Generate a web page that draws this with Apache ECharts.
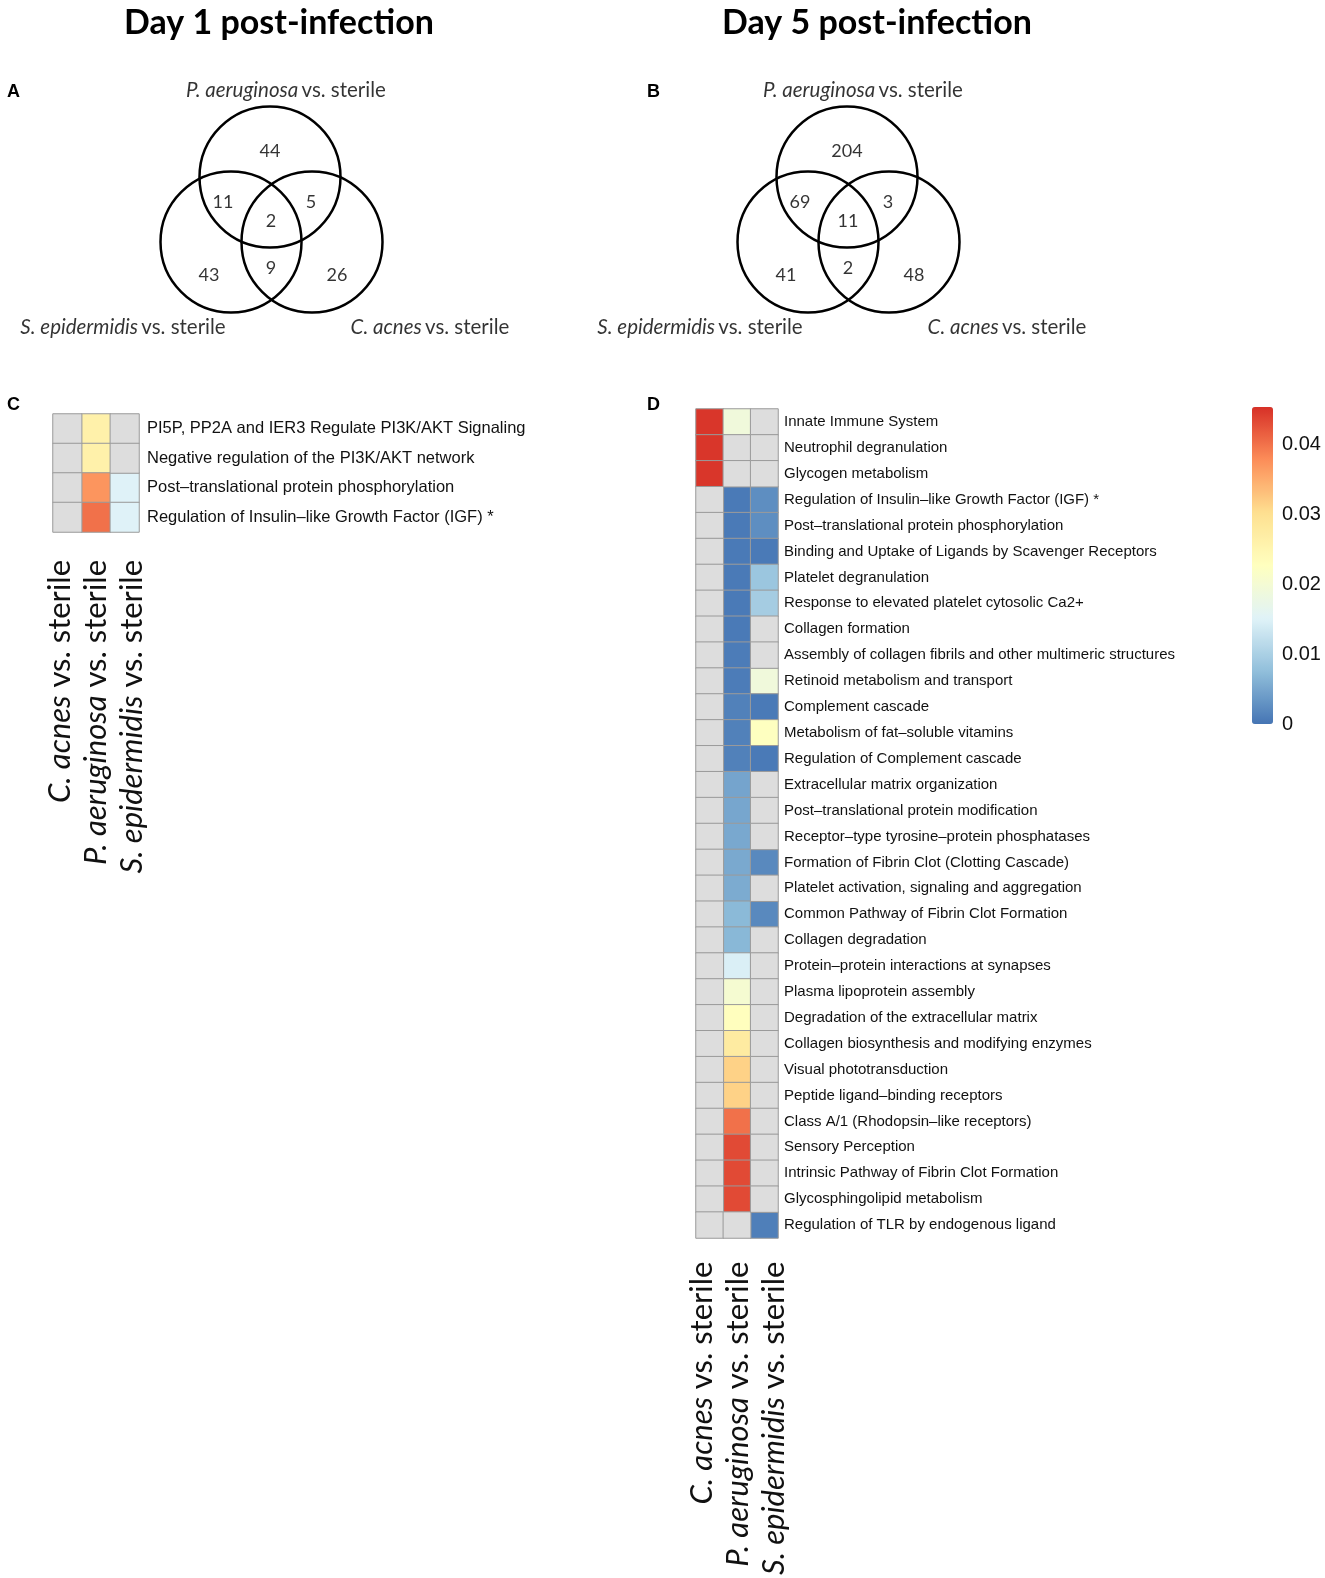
<!DOCTYPE html>
<html><head><meta charset="utf-8">
<script src="https://cdn.jsdelivr.net/npm/echarts@6/dist/echarts.min.js"></script>
<style>html,body{margin:0;padding:0;background:#fff}#c{width:1325px;height:1578px}</style>
</head><body><div id="c"></div><script>
// ---------------- DATA ----------------
const vennSetNames = ['P. aeruginosa', 'S. epidermidis', 'C. acnes'];
const vennRegions = ['P', 'P∩S', 'P∩C', 'P∩S∩C', 'S', 'S∩C', 'C'];
const day1VennCounts = [44, 11, 5, 2, 43, 9, 26];
const day5VennCounts = [204, 69, 3, 11, 41, 2, 48];

const heatColumns = ['C. acnes', 'P. aeruginosa', 'S. epidermidis'];

const day1Pathways = [
  'PI5P, PP2A and IER3 Regulate PI3K/AKT Signaling',
  'Negative regulation of the PI3K/AKT network',
  'Post\u2013translational protein phosphorylation',
  'Regulation of Insulin\u2013like Growth Factor (IGF) *'
];
const day1Cacnes = [null, null, null, null];
const day1Paer   = [0.026, 0.026, 0.037, 0.040];
const day1Sepi   = [null, null, 0.015, 0.015];

const day5Pathways = [
  'Innate Immune System',
  'Neutrophil degranulation',
  'Glycogen metabolism',
  'Regulation of Insulin\u2013like Growth Factor (IGF) *',
  'Post\u2013translational protein phosphorylation',
  'Binding and Uptake of Ligands by Scavenger Receptors',
  'Platelet degranulation',
  'Response to elevated platelet cytosolic Ca2+',
  'Collagen formation',
  'Assembly of collagen fibrils and other multimeric structures',
  'Retinoid metabolism and transport',
  'Complement cascade',
  'Metabolism of fat\u2013soluble vitamins',
  'Regulation of Complement cascade',
  'Extracellular matrix organization',
  'Post\u2013translational protein modification',
  'Receptor\u2013type tyrosine\u2013protein phosphatases',
  'Formation of Fibrin Clot (Clotting Cascade)',
  'Platelet activation, signaling and aggregation',
  'Common Pathway of Fibrin Clot Formation',
  'Collagen degradation',
  'Protein\u2013protein interactions at synapses',
  'Plasma lipoprotein assembly',
  'Degradation of the extracellular matrix',
  'Collagen biosynthesis and modifying enzymes',
  'Visual phototransduction',
  'Peptide ligand\u2013binding receptors',
  'Class A/1 (Rhodopsin\u2013like receptors)',
  'Sensory Perception',
  'Intrinsic Pathway of Fibrin Clot Formation',
  'Glycosphingolipid metabolism',
  'Regulation of TLR by endogenous ligand'
];
const day5Cacnes = [0.0448, 0.0448, 0.0448, null, null, null, null, null, null, null, null, null, null, null, null, null,
  null, null, null, null, null, null, null, null, null, null, null, null, null, null, null, null];
const day5Paer = [0.019, null, null, 0.0005, 0.0005, 0.0005, 0.0005, 0.0005, 0.0005, 0.0007, 0.0007, 0.0012, 0.0012, 0.0012,
  0.0048, 0.0050, 0.0052, 0.0053, 0.0055, 0.0070, 0.0068, 0.0145, 0.0202, 0.0228, 0.0275, 0.0315, 0.0315,
  0.0400, 0.0432, 0.0432, 0.0432, null];
const day5Sepi = [null, null, null, 0.0025, 0.0025, 0.0005, 0.0085, 0.0095, null, null, 0.019, 0.0005, 0.0225, 0.0005,
  null, null, null, 0.002, null, 0.002, null, null, null, null, null, null, null, null, null, null, null, 0.001];

const colorTicks = [0, 0.01, 0.02, 0.03, 0.04];
const colorMin = 0, colorMax = 0.0453;
const paletteColors = ['#4575B4', '#91BFDB', '#E0F3F8', '#FFFFBF', '#FEE090', '#FC8D59', '#D73027'];

// ---------------- LAYOUT ----------------
const VENN_CIRCLES = [[261, 177], [222, 242], [303, 242]];
const VENN_REGION_POS = [[261, 151], [214, 202], [302, 202], [262, 221], [200, 275], [262, 268], [328, 275]];
const VENN_NAME_POS = [[277, 90], [114, 327], [421, 327]];
const SANS = 'Lato, "Open Sans", sans-serif';
const ARIAL = '"Liberation Sans", Arial, sans-serif';
const NA_COLOR = '#DDDDDD';

function heatData(cols) {
  const out = [];
  cols.forEach((arr, ci) => arr.forEach((v, ri) => { if (v != null) out.push([ci, ri, v]); }));
  return out;
}
function naData(cols) {
  const out = [];
  cols.forEach((arr, ci) => arr.forEach((v, ri) => { if (v == null) out.push([ci, ri, 0]); }));
  return out;
}

const chart = echarts.init(document.getElementById('c'), null, { renderer: 'canvas' });

const grids = [
  { left: 9, top: 0, width: 540, height: 340 },          // 0 venn A
  { left: 586, top: 0, width: 540, height: 340 },        // 1 venn B
  { left: 53, top: 414, width: 86, height: 118 },        // 2 heat C
  { left: 42, top: 414, width: 108, height: 118 },       // 3 labels C
  { left: 696, top: 409, width: 82, height: 829 },       // 4 heat D
  { left: 684, top: 409, width: 108, height: 829 },      // 5 labels D
  { left: 1252, top: 407, width: 21, height: 317 }       // 6 colorbar axis
];

const hiddenVal = (gi, inverse, max) => ({ type: 'value', gridIndex: gi, show: false, min: 0, max: max, inverse: inverse });
const colLabelAxis = (gi, margin) => ({ type: 'category', gridIndex: gi, data: heatColumns, position: 'bottom',
  axisLine: { show: false }, axisTick: { show: false },
  axisLabel: { rotate: 90, margin: margin, fontSize: 31, color: '#111', fontFamily: SANS, interval: 0,
    formatter: v => '{i|' + v + '} {n|vs. sterile}',
    rich: { i: { fontStyle: 'italic', fontSize: 31, fontFamily: SANS, color: '#111' }, n: { fontSize: 31, fontFamily: SANS, color: '#111' } } } });
const heatXAxis = gi => ({ type: 'category', gridIndex: gi, data: heatColumns, axisLine: { show: false }, axisTick: { show: false }, axisLabel: { show: false }, splitLine: { show: false } });

const xAxes = [
  hiddenVal(0, false, 540), hiddenVal(1, false, 540),
  heatXAxis(2), colLabelAxis(3, 28), heatXAxis(4), colLabelAxis(5, 32),
  { type: 'value', gridIndex: 6, show: false, min: 0, max: 1 }
];

const yAxes = [
  hiddenVal(0, true, 340), hiddenVal(1, true, 340),
  { type: 'category', gridIndex: 2, data: day1Pathways, inverse: true, position: 'right', axisLine: { show: false }, axisTick: { show: false },
    axisLabel: { margin: 8, fontSize: 16.5, color: '#111', fontFamily: ARIAL, interval: 0 } },
  { type: 'value', gridIndex: 3, show: false },
  { type: 'category', gridIndex: 4, data: day5Pathways, inverse: true, position: 'right', axisLine: { show: false }, axisTick: { show: false },
    axisLabel: { margin: 6, fontSize: 15, color: '#111', fontFamily: ARIAL, interval: 0 } },
  { type: 'value', gridIndex: 5, show: false },
  { type: 'value', gridIndex: 6, min: colorMin, max: colorMax, interval: 0.01, position: 'right',
    axisLine: { show: false }, axisTick: { show: false }, splitLine: { show: false },
    axisLabel: { margin: 9, fontSize: 20, color: '#111', fontFamily: ARIAL, showMaxLabel: false,
      formatter: v => colorTicks.some(t => Math.abs(t - v) < 1e-9) ? String(+v.toFixed(2)) : '' } }
];

function vennSeries(gi, counts) {
  return [
    { type: 'scatter', xAxisIndex: gi, yAxisIndex: gi, silent: true, symbol: 'circle', symbolSize: 141,
      itemStyle: { color: 'rgba(0,0,0,0)', borderColor: '#000', borderWidth: 2.5, opacity: 1 },
      data: VENN_CIRCLES },
    { type: 'scatter', xAxisIndex: gi, yAxisIndex: gi, silent: true, symbolSize: 0,
      label: { show: true, position: 'inside', fontSize: 18, fontFamily: SANS, color: '#000', formatter: p => String(p.value[2]) },
      data: counts.map((c, i) => [VENN_REGION_POS[i][0], VENN_REGION_POS[i][1], c, vennRegions[i]]) },
    { type: 'scatter', xAxisIndex: gi, yAxisIndex: gi, silent: true, symbolSize: 0,
      label: { show: true, position: 'inside', color: '#000', formatter: p => '{i|' + p.value[2] + '} {n|vs. sterile}',
        rich: { i: { fontStyle: 'italic', fontSize: 20.5, fontFamily: SANS, color: '#000' }, n: { fontSize: 20.5, fontFamily: SANS, color: '#000' } } },
      data: vennSetNames.map((n, i) => [VENN_NAME_POS[i][0], VENN_NAME_POS[i][1], n]) }
  ];
}

const cellStyle = { borderColor: '#9a9a9a', borderWidth: 1 };
const series = [
  ...vennSeries(0, day1VennCounts),
  ...vennSeries(1, day5VennCounts),
  { type: 'heatmap', name: 'day1', xAxisIndex: 2, yAxisIndex: 2, data: heatData([day1Cacnes, day1Paer, day1Sepi]),
    itemStyle: cellStyle, emphasis: { disabled: true } },
  { type: 'heatmap', name: 'day5', xAxisIndex: 4, yAxisIndex: 4, data: heatData([day5Cacnes, day5Paer, day5Sepi]),
    itemStyle: cellStyle, emphasis: { disabled: true } },
  { type: 'heatmap', name: 'day1 NA', xAxisIndex: 2, yAxisIndex: 2, data: naData([day1Cacnes, day1Paer, day1Sepi]),
    itemStyle: Object.assign({ color: NA_COLOR }, cellStyle), emphasis: { disabled: true } },
  { type: 'heatmap', name: 'day5 NA', xAxisIndex: 4, yAxisIndex: 4, data: naData([day5Cacnes, day5Paer, day5Sepi]),
    itemStyle: Object.assign({ color: NA_COLOR }, cellStyle), emphasis: { disabled: true } }
];

const titleText = (t, x, y, size, fam, align) => ({ text: t, left: x, top: y, padding: 0, textAlign: align || 'left',
  textStyle: { fontSize: size, fontWeight: 'bold', fontFamily: fam, color: '#000' } });

chart.setOption({
  animation: false,
  backgroundColor: '#fff',
  title: [
    titleText('Day 1 post-infection', 279, 6, 34, SANS, 'center'),
    titleText('Day 5 post-infection', 877, 6, 34, SANS, 'center'),
    titleText('A', 7, 83, 18, ARIAL), titleText('B', 647, 83, 18, ARIAL),
    titleText('C', 7, 396, 18, ARIAL), titleText('D', 647, 396, 18, ARIAL)
  ],
  grid: grids,
  xAxis: xAxes,
  yAxis: yAxes,
  visualMap: {
    type: 'continuous', min: colorMin, max: colorMax, seriesIndex: [6, 7],
    left: 1252, top: 407, itemWidth: 21, itemHeight: 317, padding: 0,
    calculable: false, realtime: false, hoverLink: false, text: null, showLabel: false,
    inRange: { color: paletteColors }
  },
  series: series
});
</script></body></html>
